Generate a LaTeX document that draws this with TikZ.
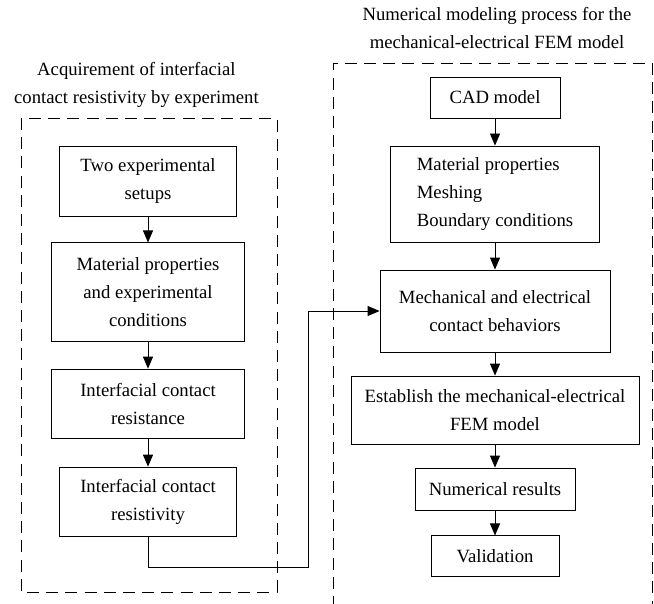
\documentclass[tikz,border=0pt]{standalone}
\usepackage{fontspec}
\setmainfont{Liberation Serif}
\usepackage{tikz}
\usetikzlibrary{arrows.meta, positioning}

\begin{document}
\begin{tikzpicture}[
  stage/.style={rectangle, draw, line width=0.6pt, align=center, inner sep=2pt, font=\fontsize{13.3}{19.9}\selectfont},
  frame/.style={draw, line width=0.6pt, dash pattern=on 0.3cm off 0.18cm},
  title/.style={align=center, font=\fontsize{13.3}{19.9}\selectfont},
  flow/.style={line width=0.6pt, -{Triangle[length=0.3cm, width=0.25cm]}}
]
\useasboundingbox (0,0) rectangle (16.35,-15.075);

% Experiment side
\node[title] (ttlexp) at (3.41, -2.13) {Acquirement of interfacial\\contact resistivity by experiment};
\draw[frame] (0.525, -2.95) rectangle (6.925, -14.8);
\node[stage, minimum width=4.425cm, minimum height=1.75cm] (setups) at (3.7, -4.525) {Two experimental\\setups};
\node[stage, minimum width=4.825cm, minimum height=2.475cm] (expcond) at (3.7, -7.31) {Material properties\\and experimental\\conditions};
\node[stage, minimum width=4.825cm, minimum height=1.725cm] (resist) at (3.7, -10.09) {Interfacial contact\\resistance};
\node[stage, minimum width=4.425cm, minimum height=1.725cm] (resistiv) at (3.7, -12.54) {Interfacial contact\\resistivity};
\draw[flow] (setups) -- (expcond);
\draw[flow] (expcond) -- (resist);
\draw[flow] (resist) -- (resistiv);

% FEM side
\node[title] (ttlfem) at (12.425, -0.69) {Numerical modeling process for the\\mechanical-electrical FEM model};
\draw[frame] (8.325, -15.2) -- (8.325, -1.575) -- (16.3, -1.575) -- (16.3, -15.2);
\node[stage, minimum width=3.25cm, minimum height=1.025cm] (cad) at (12.375, -2.44) {CAD model};
\node[stage, align=left, minimum width=5.225cm, minimum height=2.4cm] (setup) at (12.375, -4.85) {Material properties\\Meshing\\Boundary conditions};
\node[stage, minimum width=5.75cm, minimum height=2.05cm] (contact) at (12.375, -7.775) {Mechanical and electrical\\contact behaviors};
\node[stage, minimum width=7.2cm, minimum height=1.7cm] (femmodel) at (12.375, -10.25) {Establish the mechanical-electrical\\FEM model};
\node[stage, minimum width=4cm, minimum height=1.05cm] (results) at (12.375, -12.225) {Numerical results};
\node[stage, minimum width=3.2cm, minimum height=1.025cm] (valid) at (12.375, -13.91) {Validation};
\draw[flow] (cad) -- (setup);
\draw[flow] (setup) -- (contact);
\draw[flow] (contact) -- (femmodel);
\draw[flow] (femmodel) -- (results);
\draw[flow] (results) -- (valid);

% Link between the two sides
\coordinate (low) at (3.7, -14.175);
\coordinate (turn) at (7.7, -14.175);
\draw[flow] (resistiv.south) -- (low) -- (turn) |- (contact.west);

\end{tikzpicture}
\end{document}
